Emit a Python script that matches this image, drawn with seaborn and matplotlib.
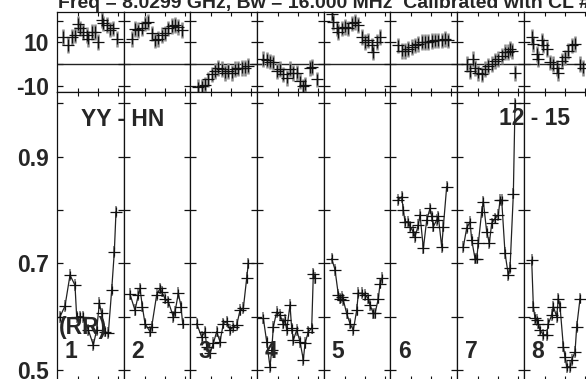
import matplotlib
matplotlib.use("Agg")
import matplotlib.pyplot as plt
import seaborn as sns

# ---------------- data (time in minutes inside each scan panel) ----------------
title_text = "Freq = 8.0299 GHz, Bw = 16.000 MHz  Calibrated with CL # 2"
baseline_label = "YY - HN"
time_label = "12 - 15"
pol_label = "(RR)"
scan_labels = ["1", "2", "3", "4", "5", "6", "7", "8"]

phase_ticks = [-10, 0, 10, 20]
phase_ticklabels = ["-10", "", "10", ""]
amp_ticks = [0.5, 0.6, 0.7, 0.8, 0.9, 1.0]
amp_ticklabels = ["0.5", "", "0.7", "", "0.9", ""]
time_ticks = [3, 6, 9]

# amplitude per scan
t_amp_1 = [0.3, 1.05, 1.8, 2.55, 2.8, 3.3, 3.8, 4.55, 5.3, 5.8, 6.2, 6.55, 7.05, 7.55, 8.05, 8.45, 8.7]
amp_1 = [0.600, 0.620, 0.678, 0.659, 0.600, 0.600, 0.600, 0.575, 0.547, 0.575, 0.625, 0.606, 0.572, 0.569, 0.650, 0.722, 0.797]
t_amp_2 = [0.8, 1.55, 2.05, 2.3, 2.65, 3.05, 3.8, 4.05, 4.8, 5.3, 5.55, 6.05, 6.55, 7.3, 7.55, 8.05, 8.45, 8.7]
amp_2 = [0.642, 0.612, 0.641, 0.653, 0.619, 0.587, 0.572, 0.581, 0.641, 0.653, 0.647, 0.634, 0.628, 0.600, 0.609, 0.644, 0.619, 0.587]
t_amp_3 = [0.8, 1.55, 2.05, 2.3, 2.8, 3.3, 3.8, 4.3, 4.8, 5.3, 5.8, 6.3, 6.8, 7.3, 7.8, 8.3, 8.55]
amp_3 = [0.587, 0.562, 0.572, 0.544, 0.531, 0.550, 0.572, 0.553, 0.587, 0.591, 0.575, 0.581, 0.584, 0.612, 0.616, 0.672, 0.700]
t_amp_4 = [0.8, 1.3, 1.8, 2.05, 2.3, 2.8, 3.3, 3.8, 4.05, 4.3, 4.8, 5.05, 5.3, 5.8, 6.3, 6.8, 7.05, 7.55, 8.05, 8.3, 8.55]
amp_4 = [0.597, 0.553, 0.506, 0.537, 0.581, 0.609, 0.603, 0.587, 0.594, 0.575, 0.622, 0.578, 0.556, 0.575, 0.553, 0.519, 0.550, 0.572, 0.578, 0.681, 0.672]
t_amp_5 = [1.05, 1.55, 2.05, 2.3, 2.55, 2.8, 3.3, 3.8, 4.3, 4.8, 5.05, 5.55, 6.05, 6.55, 6.8, 7.3, 7.55, 8.05, 8.3, 8.55]
amp_5 = [0.709, 0.688, 0.641, 0.634, 0.637, 0.631, 0.606, 0.587, 0.575, 0.612, 0.644, 0.644, 0.641, 0.634, 0.622, 0.606, 0.606, 0.634, 0.662, 0.672]
t_amp_6 = [1.05, 1.55, 1.8, 2.05, 2.55, 2.8, 3.3, 3.55, 4.05, 4.3, 4.8, 5.3, 5.8, 6.05, 6.3, 6.8, 7.05, 7.55, 7.8, 8.3]
amp_6 = [0.819, 0.825, 0.800, 0.778, 0.778, 0.769, 0.759, 0.750, 0.772, 0.791, 0.728, 0.781, 0.803, 0.788, 0.769, 0.781, 0.788, 0.731, 0.769, 0.844]
t_amp_7 = [0.8, 1.3, 1.8, 2.05, 2.55, 2.8, 3.05, 3.55, 3.8, 4.3, 4.7, 5.05, 5.55, 6.05, 6.3, 6.55, 7.05, 7.55, 7.8, 8.3, 8.55]
amp_7 = [0.731, 0.766, 0.778, 0.744, 0.709, 0.709, 0.738, 0.797, 0.816, 0.759, 0.738, 0.775, 0.784, 0.791, 0.819, 0.819, 0.719, 0.678, 0.691, 0.831, 1.000]
t_amp_8 = [1.05, 1.3, 1.55, 1.8, 2.05, 2.3, 2.8, 3.3, 3.55, 4.05, 4.3, 4.8, 5.05, 5.3, 5.8, 6.05, 6.3, 6.8, 7.05, 7.55, 7.8, 8.3]
amp_8 = [0.706, 0.619, 0.597, 0.594, 0.587, 0.575, 0.566, 0.566, 0.587, 0.603, 0.619, 0.600, 0.634, 0.619, 0.544, 0.525, 0.506, 0.506, 0.519, 0.534, 0.581, 0.634]

# phase (degrees) per scan
t_ph_1 = [0.8, 1.55, 2.05, 2.55, 3.05, 3.3, 3.8, 4.3, 4.55, 5.05, 5.55, 6.05, 6.55, 6.8, 7.3, 7.8, 8.3, 8.8]
ph_1 = [12.5, 8.9, 12.5, 13.3, 18.4, 16.4, 14.8, 13.3, 11.7, 14.8, 14.8, 10.2, 20.3, 18.7, 18.0, 15.9, 16.4, 11.7]
t_ph_2 = [1.05, 1.55, 2.05, 2.55, 3.05, 3.55, 4.05, 4.55, 5.05, 5.55, 6.05, 6.55, 7.05, 7.55, 8.05, 8.55]
ph_2 = [11.7, 16.1, 15.6, 16.4, 18.7, 19.5, 14.1, 10.9, 11.7, 13.3, 14.1, 16.4, 17.5, 18.0, 17.2, 15.6]
t_ph_3 = [1.05, 1.55, 2.05, 2.55, 3.05, 3.55, 4.05, 4.55, 5.05, 5.55, 6.05, 6.55, 7.05, 7.55, 8.05, 8.55]
ph_3 = [-10.6, -10.2, -9.4, -7.0, -4.7, -3.1, -1.6, -2.3, -3.9, -3.1, -3.9, -2.3, -1.9, -1.6, -1.6, -0.8]
t_ph_4 = [0.8, 1.3, 1.8, 2.3, 2.8, 3.3, 3.8, 4.3, 4.8, 5.3, 5.8, 6.3, 6.8, 7.05, 7.8, 8.05, 8.8]
ph_4 = [2.3, 1.9, 1.2, 0.8, -3.1, -2.3, -4.7, -6.2, -2.3, -3.9, -3.9, -7.8, -10.2, -9.4, -1.6, -1.2, -7.0]
t_ph_5 = [1.05, 1.3, 1.8, 2.05, 2.55, 3.05, 3.55, 4.05, 4.55, 5.05, 5.55, 6.05, 6.55, 7.05, 7.3, 7.8, 8.3]
ph_5 = [23.1, 19.5, 16.4, 14.8, 16.4, 17.2, 16.4, 18.7, 19.5, 18.0, 12.5, 10.2, 10.9, 8.6, 5.5, 10.2, 12.5]
t_ph_6 = [1.05, 1.55, 2.05, 2.55, 3.05, 3.55, 4.05, 4.55, 5.05, 5.55, 6.05, 6.55, 7.05, 7.55, 8.05, 8.55]
ph_6 = [8.6, 6.2, 6.2, 7.0, 7.8, 8.6, 9.4, 10.2, 10.2, 10.2, 10.6, 10.9, 10.9, 10.9, 11.7, 10.9]
t_ph_7 = [1.3, 1.8, 2.3, 2.55, 3.05, 3.55, 4.05, 4.55, 5.05, 5.55, 6.05, 6.55, 7.05, 7.55, 7.8, 8.05, 8.55]
ph_7 = [0.0, -3.1, 2.3, -1.6, -3.9, -4.7, -2.3, -0.8, 0.0, 1.6, 2.3, 3.9, 5.5, 5.5, 7.0, 6.2, -3.9]
t_ph_8 = [1.05, 1.3, 1.8, 2.05, 2.55, 2.8, 3.3, 3.8, 4.3, 4.8, 5.05, 5.55, 6.05, 6.55, 7.05, 7.55, 8.3, 8.8]
ph_8 = [12.5, 9.4, 4.7, 2.3, 10.9, 8.6, 7.0, 0.8, 0.0, -1.6, -3.9, 1.6, 3.1, 6.2, 8.6, 9.4, 0.0, -1.6]

amp_times = [t_amp_1, t_amp_2, t_amp_3, t_amp_4, t_amp_5, t_amp_6, t_amp_7, t_amp_8]
amp_vals = [amp_1, amp_2, amp_3, amp_4, amp_5, amp_6, amp_7, amp_8]
ph_times = [t_ph_1, t_ph_2, t_ph_3, t_ph_4, t_ph_5, t_ph_6, t_ph_7, t_ph_8]
ph_vals = [ph_1, ph_2, ph_3, ph_4, ph_5, ph_6, ph_7, ph_8]

# ---------------- style / layout ----------------
sns.set_style("white")
plt.rcParams['font.family'] = ['Liberation Sans', 'DejaVu Sans']
plt.rcParams['font.weight'] = 'bold'

W, H = 586, 379
fig = plt.figure(figsize=(W / 100, H / 100), dpi=100)


def fx(px):
    return px / W


def fy(py):
    return 1 - py / H


left0, pw = 57.0, 66.67
top0, mid, bot = 11.7, 91.7, 380.0
PH_LIM = (-12.6, 24.1)
AMP_LIM = (0.4813, 1.0219)
T_LIM = (-0.15, 9.85)
LAB_FS = 16.5

for i in range(8):
    x0 = fx(left0 + i * pw)
    axp = fig.add_axes([x0, fy(mid), pw / W, (mid - top0) / H])
    axa = fig.add_axes([x0, fy(bot), pw / W, (bot - mid) / H])

    # phase panel
    axp.axhline(0, color='#222222', lw=1.0, zorder=1)
    axp.errorbar(ph_times[i], ph_vals[i], yerr=3.6, fmt='none',
                 ecolor='#8a8a8a', elinewidth=1.8, zorder=2)
    axp.errorbar(ph_times[i], ph_vals[i], xerr=0.9, yerr=2.6, fmt='none',
                 ecolor='#111111', elinewidth=0.9, zorder=3)

    # amplitude panel
    sns.lineplot(x=amp_times[i], y=amp_vals[i], ax=axa, color='#222222',
                 lw=0.9, sort=False, estimator=None, zorder=3)
    axa.errorbar(amp_times[i], amp_vals[i], yerr=0.011, fmt='none',
                 ecolor='#8a8a8a', elinewidth=1.4, zorder=2)
    axa.errorbar(amp_times[i], amp_vals[i], xerr=0.9, yerr=0.008, fmt='none',
                 ecolor='#111111', elinewidth=0.9, zorder=3)

    for ax, lim, ticks, labels in ((axp, PH_LIM, phase_ticks, phase_ticklabels),
                                   (axa, AMP_LIM, amp_ticks, amp_ticklabels)):
        ax.set_xlim(*T_LIM)
        ax.set_ylim(*lim)
        ax.set_xticks(time_ticks)
        ax.set_yticks(ticks)
        ax.set_xlabel("")
        ax.set_ylabel("")
        ax.tick_params(axis='x', direction='in', length=3, width=0.8,
                       top=True, bottom=True, labelbottom=False, color='#111111')
        if i == 0:
            ax.set_yticklabels(labels)
            ax.tick_params(axis='y', direction='in', length=4.3, width=0.9,
                           left=True, right=False, pad=5.8, labelsize=LAB_FS,
                           color='#111111')
            for lab in ax.get_yticklabels():
                lab.set_fontweight('bold')
        else:
            ax.tick_params(axis='y', direction='inout', length=8.6, width=0.9,
                           left=True, right=False, labelleft=False, color='#111111')
        for sp in ax.spines.values():
            sp.set_visible(True)
            sp.set_color('#111111')
            sp.set_linewidth(0.9)

    fig.text(fx(left0 + i * pw + 8), fy(358), scan_labels[i], fontsize=LAB_FS,
             fontweight='bold', va='baseline', ha='left')

fig.text(fx(81), fy(125.7), baseline_label, fontsize=LAB_FS, fontweight='bold',
         va='baseline', ha='left')
fig.text(fx(570), fy(125), time_label, fontsize=LAB_FS, fontweight='bold',
         va='baseline', ha='right')
fig.text(fx(59), fy(334), pol_label, fontsize=LAB_FS, fontweight='bold',
         va='baseline', ha='left')
fig.text(fx(58), fy(7.5), title_text, fontsize=14, fontweight='bold',
         va='baseline', ha='left')

fig.savefig("out.png", dpi=100)
